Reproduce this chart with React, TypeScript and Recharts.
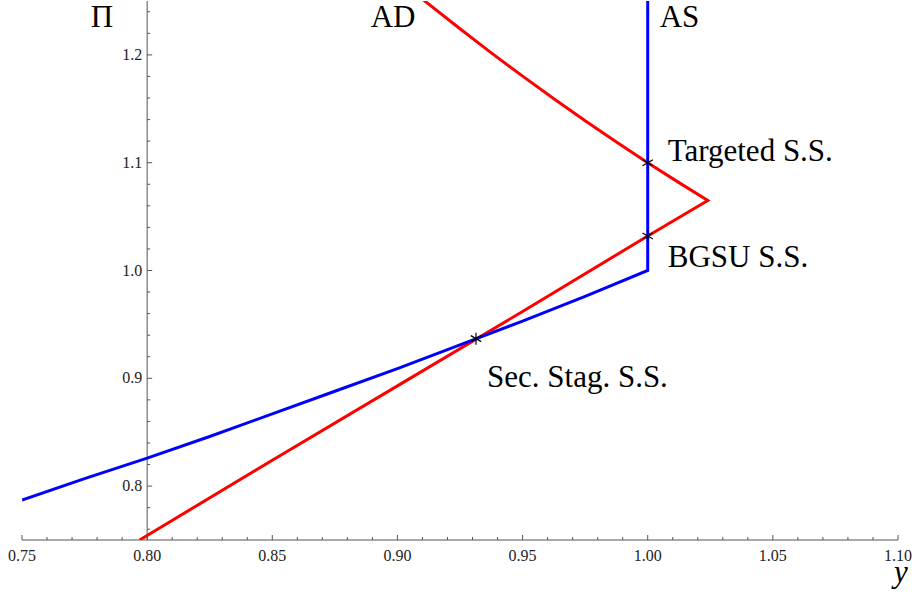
import React from "react";
import {
  ComposedChart,
  Line,
  Scatter,
  XAxis,
  YAxis,
  ReferenceLine,
  ReferenceDot,
} from "recharts";

// AS curve (blue): output y vs inflation Pi
const asY = [0.75, 0.775, 0.8, 0.825, 0.85, 0.875, 0.9, 0.925, 0.95, 0.975, 1.0, 1.0];
const asPi = [0.787, 0.807, 0.826, 0.846, 0.867, 0.888, 0.909, 0.931, 0.953, 0.976, 1.0, 1.25];

// AD curve (red): lower branch up to the kink, then the upper branch back to the left
const adY = [
  0.797, 0.85, 0.9, 0.95, 1.0, 1.024,
  1.0125, 1.0, 0.9875, 0.975, 0.9625, 0.95, 0.9375, 0.925, 0.91,
];
const adPi = [
  0.75, 0.824, 0.893, 0.962, 1.032, 1.065,
  1.0815, 1.1, 1.1191, 1.1389, 1.1593, 1.1803, 1.2019, 1.2242, 1.2517,
];

// steady states (star markers)
const ssNames = ["Targeted S.S.", "BGSU S.S.", "Sec. Stag. S.S."];
const ssY = [1.0, 1.0, 0.9314];
const ssPi = [1.1, 1.032, 0.9368];

const xMajor = [0.75, 0.8, 0.85, 0.9, 0.95, 1.0, 1.05, 1.1];
const yMajor = [0.8, 0.9, 1.0, 1.1, 1.2];

const xTicks = Array.from({ length: 36 }, (_, i) => Math.round(75 + i) / 100);
const yMinor = Array.from({ length: 25 }, (_, i) => Math.round(76 + i * 2) / 100).filter(
  (v) => !yMajor.includes(v)
);

const asData = asY.map((y, i) => ({ y, pi: asPi[i] }));
const adData = adY.map((y, i) => ({ y, pi: adPi[i] }));
const ssData = ssY.map((y, i) => ({ y, pi: ssPi[i], name: ssNames[i] }));

const FONT = "Liberation Serif, Times New Roman, serif";
const AXIS = "#555";

const XTick = (props: any) => {
  const { x, y, payload } = props;
  const v = payload.value as number;
  const major = xMajor.some((m) => Math.abs(m - v) < 1e-6);
  return (
    <g>
      <line x1={x} x2={x} y1={y} y2={y - (major ? 5 : 3)} stroke={AXIS} />
      {major && (
        <text x={x} y={y + 21} textAnchor="middle" style={{ fontFamily: FONT, fontSize: 16 }} fill="#222">
          {v.toFixed(2)}
        </text>
      )}
    </g>
  );
};

const Star = (props: any) => {
  const { cx, cy } = props;
  const r = 6;
  const arms = [90, 30, -30].map((a) => {
    const dx = r * Math.cos((a * Math.PI) / 180);
    const dy = r * Math.sin((a * Math.PI) / 180);
    return <line key={a} x1={cx - dx} y1={cy - dy} x2={cx + dx} y2={cy + dy} stroke="#000" strokeWidth={1.2} />;
  });
  return <g>{arms}</g>;
};

const textAt = (label: string, dx: number, dy: number, anchor = "start", italic = false) =>
  (p: any) => (
    <text
      x={p.cx + dx}
      y={p.cy + dy}
      textAnchor={anchor}
      style={{ fontFamily: FONT, fontSize: 31, fontStyle: italic ? "italic" : "normal" }}
      fill="#000"
    >
      {label}
    </text>
  );

export default function App() {
  return (
    <div style={{ position: "absolute", left: 0, top: 0, background: "#fff" }}>
      <ComposedChart width={912} height={592} margin={{ top: 1, right: 14, bottom: 22, left: 22 }}>
        <XAxis
          dataKey="y"
          type="number"
          domain={[0.75, 1.1]}
          ticks={xTicks}
          interval={0}
          allowDataOverflow
          tickLine={false}
          tickSize={0}
          tickMargin={0}
          axisLine={{ stroke: AXIS }}
          height={30}
          tick={<XTick />}
        />
        <YAxis dataKey="pi" type="number" domain={[0.75, 1.25]} allowDataOverflow hide />

        <ReferenceLine x={0.8} stroke={AXIS} />
        {yMinor.map((v) => (
          <ReferenceDot
            key={"m" + v}
            x={0.8}
            y={v}
            r={0}
            shape={(p: any) => <line x1={p.cx} x2={p.cx + 3} y1={p.cy} y2={p.cy} stroke={AXIS} />}
          />
        ))}
        {yMajor.map((v) => (
          <ReferenceDot
            key={"M" + v}
            x={0.8}
            y={v}
            r={0}
            shape={(p: any) => (
              <g>
                <line x1={p.cx} x2={p.cx + 5} y1={p.cy} y2={p.cy} stroke={AXIS} />
                <text x={p.cx - 5} y={p.cy + 5} textAnchor="end" style={{ fontFamily: FONT, fontSize: 16 }} fill="#222">
                  {v.toFixed(1)}
                </text>
              </g>
            )}
          />
        ))}

        <Line
          data={adData}
          dataKey="pi"
          type="linear"
          stroke="#ff0000"
          strokeWidth={3}
          dot={false}
          isAnimationActive={false}
        />
        <Line
          data={asData}
          dataKey="pi"
          type="linear"
          stroke="#0000ff"
          strokeWidth={3}
          dot={false}
          isAnimationActive={false}
        />
        <Scatter data={ssData} dataKey="pi" shape={<Star />} isAnimationActive={false} />

        <ReferenceDot x={ssY[0]} y={ssPi[0]} r={0} shape={textAt(ssNames[0], 20, -2)} />
        <ReferenceDot x={ssY[1]} y={ssPi[1]} r={0} shape={textAt(ssNames[1], 20, 31)} />
        <ReferenceDot x={ssY[2]} y={ssPi[2]} r={0} shape={textAt(ssNames[2], 11, 48)} />
        <ReferenceDot x={0.91} y={1.25} r={0} shape={textAt("AD", -7, 26, "end")} />
        <ReferenceDot x={1.0} y={1.25} r={0} shape={textAt("AS", 12, 26)} />
        <ReferenceDot x={0.8} y={1.25} r={0} shape={textAt("Π", -34, 26, "end")} />
        <ReferenceDot x={1.1} y={0.75} r={0} shape={textAt("y", -4, 42, "start", true)} />
      </ComposedChart>
    </div>
  );
}
